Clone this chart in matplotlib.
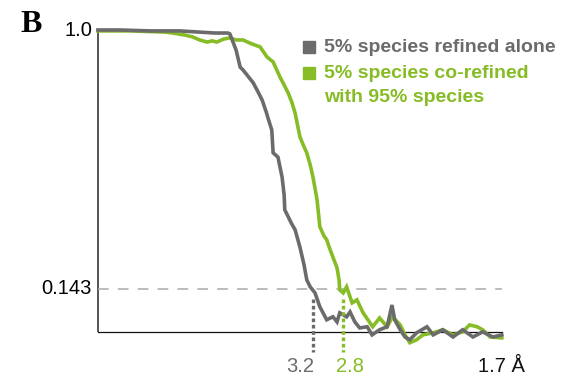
import matplotlib.pyplot as plt

# FSC curves, x in spatial frequency (1/A), y in correlation
freq_alone = [0, 0.032, 0.076, 0.119, 0.148, 0.170, 0.189, 0.192, 0.201, 0.207, 0.211, 0.218,
              0.226, 0.233, 0.239, 0.245, 0.247, 0.253, 0.255, 0.262, 0.265, 0.268, 0.271,
              0.272, 0.277, 0.282, 0.287, 0.294, 0.300, 0.304, 0.309, 0.316, 0.323, 0.333,
              0.342, 0.348, 0.352, 0.362, 0.367, 0.374, 0.381, 0.392, 0.399, 0.410, 0.421,
              0.428, 0.432, 0.440, 0.447, 0.454, 0.464, 0.479, 0.488, 0.502, 0.517, 0.531,
              0.546, 0.560, 0.575, 0.588]
fsc_alone = [1.000, 1.000, 0.997, 0.997, 0.993, 0.990, 0.990, 0.987, 0.934, 0.877, 0.868, 0.848,
             0.825, 0.795, 0.768, 0.728, 0.712, 0.669, 0.593, 0.579, 0.546, 0.513, 0.454,
             0.404, 0.381, 0.358, 0.338, 0.281, 0.222, 0.172, 0.149, 0.129, 0.083, 0.040,
             0.050, 0.033, 0.063, 0.050, 0.066, 0.033, 0.013, 0.017, -0.010, 0.007, 0.017,
             0.089, 0.040, 0.007, -0.017, -0.026, -0.003, 0.017, -0.010, 0.007, -0.017, 0.007,
             -0.017, 0.000, -0.017, -0.010]

freq_co = [0, 0.047, 0.098, 0.109, 0.127, 0.138, 0.148, 0.159, 0.166, 0.173, 0.183, 0.192,
           0.201, 0.211, 0.224, 0.236, 0.246, 0.255, 0.265, 0.271, 0.277, 0.282, 0.287,
           0.294, 0.300, 0.304, 0.309, 0.313, 0.319, 0.323, 0.329, 0.333, 0.338, 0.342,
           0.348, 0.351, 0.352, 0.357, 0.362, 0.370, 0.377, 0.386, 0.393, 0.400, 0.410,
           0.421, 0.429, 0.440, 0.447, 0.454, 0.464, 0.473, 0.488, 0.502, 0.517, 0.531,
           0.541, 0.552, 0.560, 0.571, 0.588]
fsc_co = [0.997, 0.997, 0.993, 0.990, 0.983, 0.977, 0.967, 0.960, 0.964, 0.960, 0.970, 0.974,
          0.967, 0.967, 0.954, 0.944, 0.911, 0.894, 0.844, 0.818, 0.791, 0.762, 0.725,
          0.646, 0.613, 0.593, 0.553, 0.513, 0.437, 0.348, 0.318, 0.305, 0.272, 0.248,
          0.212, 0.172, 0.139, 0.129, 0.149, 0.096, 0.106, 0.063, 0.040, 0.017, 0.046,
          0.017, 0.050, 0.023, -0.010, -0.036, -0.026, -0.010, -0.003, 0.007, -0.010, 0.000,
          0.023, 0.017, 0.007, -0.017, -0.020]

threshold = 0.143
res_alone = 3.2
res_co = 2.8
res_max = 1.7

GRAY = '#6b6b6b'
GREEN = '#86bc25'

plt.rcParams['font.family'] = ['Liberation Sans', 'DejaVu Sans']

fig = plt.figure(figsize=(5.79, 3.79), dpi=100)
W, H = 579, 379
y_lo = -0.07
ax = fig.add_axes([98 / W, 1 - 353 / H, (502 - 98) / W, (353 - 30) / H])
ax.set_xlim(0, 1 / res_max)
ax.set_ylim(y_lo, 1.0)
for s in ax.spines.values():
    s.set_visible(False)
ax.set_xticks([])
ax.set_yticks([])

# axis lines
ax.plot([0, 0], [0, 1.0], color='#555555', lw=1.4, clip_on=False, solid_capstyle='butt')
ax.plot([0, 1 / res_max], [0, 0], color='#111111', lw=0.9, clip_on=False)
ax.plot([0, 1 / res_max], [threshold, threshold], color='#aaaaaa', lw=1.1,
        dashes=(7, 6), clip_on=False)

ax.plot(freq_co, fsc_co, color=GREEN, lw=2.6, clip_on=False, solid_joinstyle='miter')
ax.plot(freq_alone, fsc_alone, color=GRAY, lw=2.6, clip_on=False, solid_joinstyle='miter')

# resolution markers
for r, c, dx in [(res_alone, GRAY, -12), (res_co, GREEN, 7)]:
    ax.plot([1 / r, 1 / r], [threshold - 0.035, y_lo + 0.004], color=c, lw=2.4,
            dashes=(1.1, 0.8), clip_on=False)
    xpix = ax.transData.transform((1 / r, 0))[0] + dx
    fig.text(xpix / W, 1 - 366 / H, f'{r:.1f}', color=c, fontsize=14.5,
             ha='center', va='center')
fig.text(501 / W, 1 - 366 / H, f'{res_max} Å', color='#111111', fontsize=14.5,
         ha='center', va='center')

fig.text(92 / W, 1 - 30 / H, '1.0', fontsize=14.5, ha='right', va='center')
fig.text(92 / W, 1 - 289 / H, f'{threshold}', fontsize=14.5, ha='right', va='center')

fig.text(20 / W, 1 - 25 / H, 'B', fontsize=23, fontweight='bold',
         family=['Liberation Serif', 'DejaVu Serif'], ha='left', va='center')

# legend
fig.patches.append(plt.Rectangle((303 / W, 1 - 53 / H), 12 / W, 12 / H,
                                 transform=fig.transFigure, color=GRAY))
fig.patches.append(plt.Rectangle((303 / W, 1 - 79 / H), 12 / W, 12 / H,
                                 transform=fig.transFigure, color=GREEN))
fig.text(324 / W, 1 - 47 / H, '5% species refined alone', color=GRAY,
         fontsize=14, fontweight='bold', ha='left', va='center')
fig.text(324 / W, 1 - 73 / H, '5% species co-refined', color=GREEN,
         fontsize=14, fontweight='bold', ha='left', va='center')
fig.text(324 / W, 1 - 97 / H, 'with 95% species', color=GREEN,
         fontsize=14, fontweight='bold', ha='left', va='center')

fig.savefig('out.png', dpi=100)
